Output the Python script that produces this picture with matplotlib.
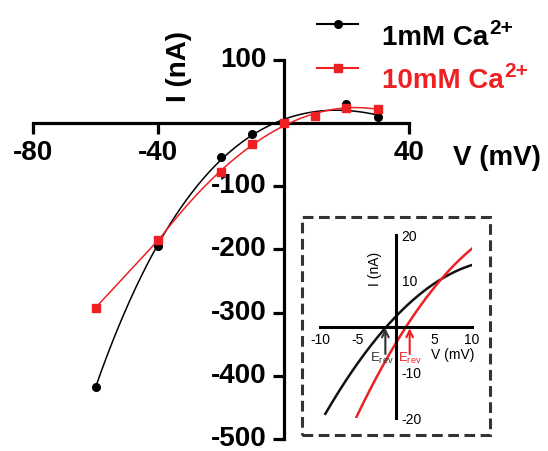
import numpy as np
import matplotlib
matplotlib.use('Agg')
import matplotlib.pyplot as plt
from matplotlib.lines import Line2D
from matplotlib.patches import Rectangle

plt.rcParams['font.family'] = ['Liberation Sans', 'DejaVu Sans']
plt.rcParams['mathtext.fontset'] = 'custom'
plt.rcParams['mathtext.rm'] = 'Liberation Sans'
plt.rcParams['mathtext.bf'] = 'Liberation Sans:bold'
plt.rcParams['mathtext.it'] = 'Liberation Sans:italic'
plt.rcParams['axes.unicode_minus'] = False

# I-V data (mV, nA)
voltage = [-60, -40, -20, -10, 0, 10, 20, 30]
current_1mM = [-417, -194, -53, -17, 1, 12, 30, 9.5]
current_10mM = [-292, -185, -78, -33, 0, 11.6, 23.8, 22.7]

# close-up of the fitted currents near the reversal potential
inset_v_1mM = [-9.3, -5.2, -1.4, 0, 4.5, 6, 10]
inset_i_1mM = [-18.6, -9.5, 0, 2.5, 8.7, 10.75, 13.2]
inset_v_10mM = [-5.2, 0, 1.4, 6, 10]
inset_i_10mM = [-19.7, -3.7, 0, 10.75, 16.9]

x_ticks = [-80, -40, 40]
y_ticks = [100, -100, -200, -300, -400, -500]
inset_x_ticks = [-10, -5, 5, 10]
inset_y_ticks = [-20, -10, 10, 20]

RED = '#ed2024'
W, H = 548, 451
fig = plt.figure(figsize=(W / 100, H / 100), dpi=100)


def frac(x0, y0, x1, y1):
    """Pixel box (top-left origin) -> figure fraction rect."""
    return [x0 / W, 1 - y1 / H, (x1 - x0) / W, (y1 - y0) / H]


def fy(py):
    return 1 - py / H


v = np.array(voltage, float)
i1 = np.array(current_1mM, float)
i10 = np.array(current_10mM, float)
fit1 = np.poly1d(np.polyfit(v, i1, 4))
fit10 = np.poly1d(np.polyfit(v[1:], i10[1:], 3))

# ---- main I-V plot ----
ax = fig.add_axes(frac(33, 60, 409, 439))
ax.patch.set_alpha(0)
vv1 = np.linspace(v[0], v[-1], 400)
vv10 = np.linspace(v[1], v[-1], 400)
ax.plot(vv1, fit1(vv1), color='black', lw=1.1, zorder=3)
ax.plot(vv10, fit10(vv10), color=RED, lw=1.1, zorder=3)
ax.plot(v[:2], i10[:2], color=RED, lw=1.1, zorder=3)
ax.plot(v, i1, 'o', color='black', ms=5.5, zorder=4, clip_on=False)
ax.plot(v, i10, 's', color=RED, ms=6, zorder=4, clip_on=False)

ax.set_xlim(-80, 40)
ax.set_ylim(-500, 100)
for s in ['top', 'right']:
    ax.spines[s].set_visible(False)
for s in ['left', 'bottom']:
    ax.spines[s].set_position(('data', 0))
    ax.spines[s].set_linewidth(2.3)
ax.set_xticks(x_ticks)
ax.set_yticks(y_ticks)
ax.set_xticklabels([str(t) for t in x_ticks])
ax.set_yticklabels([str(t) for t in y_ticks])
ax.tick_params(axis='both', direction='out', length=8, width=2.3,
               labelsize=20, pad=4)
for lab in ax.get_xticklabels() + ax.get_yticklabels():
    lab.set_fontweight('bold')
for lab in ax.get_yticklabels():
    lab.set_verticalalignment('center')

fig.text(179 / W, fy(66), 'I (nA)', rotation=90, ha='center',
         va='center', fontsize=20, fontweight='bold')
fig.text(497 / W, fy(158), 'V (mV)', ha='center', va='center',
         fontsize=20, fontweight='bold')

# ---- legend (handles + labels with raised charge) ----
renderer = fig.canvas.get_renderer()
legend_rows = [('1mM Ca', 'o', 'black', 24, 45),
               ('10mM Ca', 's', RED, 68, 88)]
for text, mk, col, line_y, base_y in legend_rows:
    fig.add_artist(Line2D([317 / W, 358 / W], [fy(line_y)] * 2,
                          transform=fig.transFigure, color=col, lw=1.5))
    fig.add_artist(Line2D([337.5 / W], [fy(line_y)], marker=mk,
                          ms=6 if mk == 's' else 5.5, color=col,
                          transform=fig.transFigure))
    t = fig.text(382 / W, fy(base_y), text, ha='left', va='baseline',
                 fontsize=20, fontweight='bold', color=col)
    bb = t.get_window_extent(renderer)
    fig.text(bb.x1 / W + 1 / W, fy(base_y - 11), '2+', ha='left',
             va='baseline', fontsize=15, fontweight='bold', color=col)

# ---- inset: close-up around the reversal potentials ----
fig.patches.append(Rectangle((302 / W, fy(435)), 188 / W, 218 / H,
                             transform=fig.transFigure, fill=False,
                             edgecolor='#333333', lw=2.2,
                             linestyle=(0, (3.5, 1.8))))

axi = fig.add_axes(frac(320, 235, 472, 418))
axi.patch.set_alpha(0)
axi.set_xlim(-10, 10)
axi.set_ylim(-20, 20)

vb = np.array(inset_v_1mM)
vr = np.array(inset_v_10mM)
in_fit1 = np.poly1d(np.polyfit(vb, inset_i_1mM, 2))
in_fit10 = np.poly1d(np.polyfit(vr, inset_i_10mM, 2))
gb = np.linspace(vb[0], vb[-1], 300)
gr = np.linspace(vr[0], vr[-1], 300)
axi.plot(gb, in_fit1(gb), color='#111111', lw=1.8)
axi.plot(gr, in_fit10(gr), color=RED, lw=1.8)

axi.spines['top'].set_visible(False)
axi.spines['left'].set_visible(False)
axi.spines['right'].set_position(('data', 0))
axi.spines['bottom'].set_position(('data', 0))
for s in ['right', 'bottom']:
    axi.spines[s].set_linewidth(2.2)
axi.yaxis.set_ticks_position('right')
axi.set_xticks(inset_x_ticks)
axi.set_yticks(inset_y_ticks)
axi.tick_params(axis='both', length=0, labelsize=10)
axi.tick_params(axis='x', pad=5)
axi.tick_params(axis='y', pad=4)

axi.text(-2.8, 12.5, 'I (nA)', rotation=90, ha='center', va='center',
         fontsize=10)
axi.text(7.5, -6.2, 'V (mV)', ha='center', va='center', fontsize=10)

for e, col, dx in [(inset_v_1mM[2], '#333333', -0.4),
                   (inset_v_10mM[2] + 0.4, RED, 0.0)]:
    axi.annotate('', xy=(e, -0.4), xytext=(e, -6.0),
                 arrowprops=dict(arrowstyle='->', color=col, lw=1.5,
                                 mutation_scale=12, shrinkA=0, shrinkB=0))
    axi.text(e + dx, -5.4, r'E$_{\mathrm{rev}}$', color=col, ha='center',
             va='top', fontsize=9.5)

fig.savefig('out.png', dpi=100, facecolor='white')
